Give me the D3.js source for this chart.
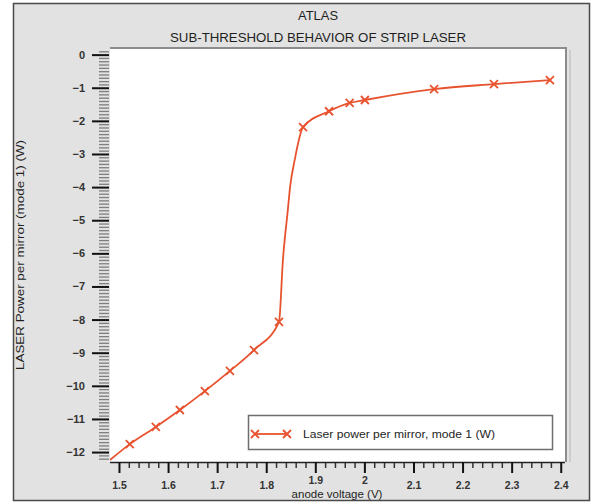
<!DOCTYPE html>
<html>
<head>
<meta charset="utf-8">
<script src="https://cdn.jsdelivr.net/npm/d3@7"></script>
<style>
  html, body { margin: 0; padding: 0; background: #fff; }
  svg { display: block; font-family: "Liberation Sans", Arial, sans-serif; }
</style>
</head>
<body>
<svg id="chart" width="598" height="504"></svg>
<script>
// Solved bias points: anode voltage (V) and laser power per mirror, mode 1 (log10 W)
const voltage = [1.4817, 1.522, 1.575, 1.624, 1.675, 1.726, 1.775, 1.826,
                 1.834, 1.844, 1.849, 1.858, 1.875, 1.928, 1.970, 2.001, 2.142, 2.264, 2.378];
const power   = [-12.24, -11.76, -11.24, -10.73, -10.16, -9.55, -8.92, -8.07,
                 -6.20, -4.69, -3.95, -3.18, -2.19, -1.71, -1.46, -1.37, -1.04, -0.89, -0.77];
// Indices of the points drawn with a cross marker
const marked = [1, 2, 3, 4, 5, 6, 7, 12, 13, 14, 15, 16, 17, 18];

const xTickValues = [1.5, 1.6, 1.7, 1.8, 1.9, 2.0, 2.1, 2.2, 2.3, 2.4];
const xTickLabels = ["1.5", "1.6", "1.7", "1.8", "1.9", "2", "2.1", "2.2", "2.3", "2.4"];
const yTickValues = [0, -1, -2, -3, -4, -5, -6, -7, -8, -9, -10, -11, -12];

const titleText = "ATLAS";
const subtitleText = "SUB-THRESHOLD BEHAVIOR OF STRIP LASER";
const xTitle = "anode voltage (V)";
const yTitle = "LASER Power per mirror (mode 1) (W)";
const seriesName = "Laser power per mirror, mode 1 (W)";

const lineColor = "#e8532f";

const svg = d3.select("#chart");
const plot = { left: 110, right: 565, top: 48, bottom: 462 };

const x = d3.scaleLinear().domain([1.4817, 2.4087]).range([plot.left, plot.right]);
const y = d3.scaleLinear().domain([-12.3, 0.2]).range([plot.bottom, plot.top]);

// outer panel
svg.append("rect")
  .attr("x", 13.5).attr("y", 3.5).attr("width", 576).attr("height", 497)
  .attr("fill", "#e2e2e2").attr("stroke", "#4a4a4a").attr("stroke-width", 1.5);

// titles
svg.append("text").attr("x", 318).attr("y", 20)
  .attr("text-anchor", "middle").attr("font-size", 12.5).attr("fill", "#1e1e1e")
  .attr("textLength", 40).attr("lengthAdjust", "spacingAndGlyphs")
  .text(titleText);
svg.append("text").attr("x", 318).attr("y", 42)
  .attr("text-anchor", "middle").attr("font-size", 12.5).attr("fill", "#1e1e1e")
  .attr("textLength", 296).attr("lengthAdjust", "spacingAndGlyphs")
  .text(subtitleText);

// plot area
svg.append("rect")
  .attr("x", plot.left).attr("y", plot.top)
  .attr("width", plot.right - plot.left).attr("height", plot.bottom - plot.top)
  .attr("fill", "#fff");
svg.append("path")
  .attr("d", `M${plot.left},${plot.top}H${plot.right + 1}V${plot.bottom}`)
  .attr("fill", "none").attr("stroke", "#8c8c8c").attr("stroke-width", 2);
svg.append("line")
  .attr("x1", plot.right + 5).attr("x2", plot.right + 5)
  .attr("y1", plot.top + 2).attr("y2", plot.bottom)
  .attr("stroke", "#c4c4c4").attr("stroke-width", 1.5);

// y axis: dense minor ticks, then major ticks with labels
const yMinor = d3.range(-122, 2).map(d => d / 10).filter(d => Math.abs(d - Math.round(d)) > 1e-6);
svg.append("g").attr("transform", `translate(${plot.left - 1},0)`)
  .call(d3.axisLeft(y).tickValues(yMinor).tickSize(10).tickFormat(""))
  .call(g => g.select(".domain").remove())
  .call(g => g.selectAll(".tick line").attr("stroke", "#7e7e7e").attr("stroke-width", 1.3));

svg.append("g").attr("transform", `translate(${plot.left - 1},0)`)
  .call(d3.axisLeft(y).tickValues(yTickValues).tickSize(17).tickPadding(7)
    .tickFormat(d => d3.format("d")(d)))
  .call(g => g.select(".domain").remove())
  .call(g => g.selectAll(".tick line").attr("stroke", "#111").attr("stroke-width", 2))
  .call(g => g.selectAll(".tick text").attr("font-size", 11).attr("font-weight", "bold")
    .attr("fill", "#333").attr("font-family", "Liberation Sans, Arial, sans-serif"));

// x axis: minor then major ticks
const xMinor = d3.range(150, 242, 2).map(d => d / 100).filter(d => Math.round(d * 100) % 10 !== 0);
svg.append("g").attr("transform", `translate(0,${plot.bottom})`)
  .call(d3.axisBottom(x).tickValues(xMinor).tickSize(6).tickFormat(""))
  .call(g => g.select(".domain").remove())
  .call(g => g.selectAll(".tick line").attr("stroke", "#333").attr("stroke-width", 1.5));

svg.append("g").attr("transform", `translate(0,${plot.bottom})`)
  .call(d3.axisBottom(x).tickValues(xTickValues).tickSize(11).tickPadding(9)
    .tickFormat((d, i) => xTickLabels[i]))
  .call(g => g.select(".domain").attr("stroke", "#222").attr("stroke-width", 1.5)
    .attr("d", `M${plot.left},0.5H${plot.right}`))
  .call(g => g.selectAll(".tick line").attr("stroke", "#111").attr("stroke-width", 2))
  .call(g => g.selectAll(".tick text").attr("font-size", 10.5).attr("font-weight", "bold")
    .attr("fill", "#333").attr("font-family", "Liberation Sans, Arial, sans-serif"))
  // the two labels sitting above the axis title are lifted slightly
  .call(g => g.selectAll(".tick text").filter(d => d > 1.85 && d < 2.05).attr("y", 15));

// axis titles
svg.append("text").attr("x", 337).attr("y", 498)
  .attr("text-anchor", "middle").attr("font-size", 11.5).attr("fill", "#1e1e1e")
  .text(xTitle);
svg.append("text")
  .attr("transform", "translate(24,255) rotate(-90)")
  .attr("text-anchor", "middle").attr("font-size", 11).attr("fill", "#1e1e1e")
  .attr("textLength", 230).attr("lengthAdjust", "spacingAndGlyphs")
  .text(yTitle);

// series
svg.append("clipPath").attr("id", "plot-clip")
  .append("rect").attr("x", plot.left).attr("y", plot.top)
  .attr("width", plot.right - plot.left).attr("height", plot.bottom - plot.top);

const pts = voltage.map((v, i) => [v, power[i]]);
const line = d3.line().x(d => x(d[0])).y(d => y(d[1])).curve(d3.curveMonotoneX);

const series = svg.append("g").attr("clip-path", "url(#plot-clip)");
series.append("path").datum(pts).attr("d", line)
  .attr("fill", "none").attr("stroke", lineColor).attr("stroke-width", 1.8);

function cross(g, cx, cy, r) {
  g.append("path")
    .attr("d", `M${cx - r},${cy - r}L${cx + r},${cy + r}M${cx - r},${cy + r}L${cx + r},${cy - r}`)
    .attr("stroke", lineColor).attr("stroke-width", 1.8).attr("fill", "none");
}
marked.forEach(i => cross(series, x(voltage[i]), y(power[i]), 4));

// legend
const lg = svg.append("g");
lg.append("rect").attr("x", 248.5).attr("y", 415.5).attr("width", 304).attr("height", 34)
  .attr("fill", "#fff").attr("stroke", "#6e6e6e").attr("stroke-width", 1.5);
lg.append("line").attr("x1", 255).attr("x2", 287).attr("y1", 434).attr("y2", 434)
  .attr("stroke", lineColor).attr("stroke-width", 1.8);
cross(lg, 255, 434, 4);
cross(lg, 287, 434, 4);
lg.append("text").attr("x", 303).attr("y", 438)
  .attr("font-size", 10.5).attr("fill", "#1e1e1e")
  .attr("textLength", 192).attr("lengthAdjust", "spacingAndGlyphs")
  .text(seriesName);
</script>
</body>
</html>
